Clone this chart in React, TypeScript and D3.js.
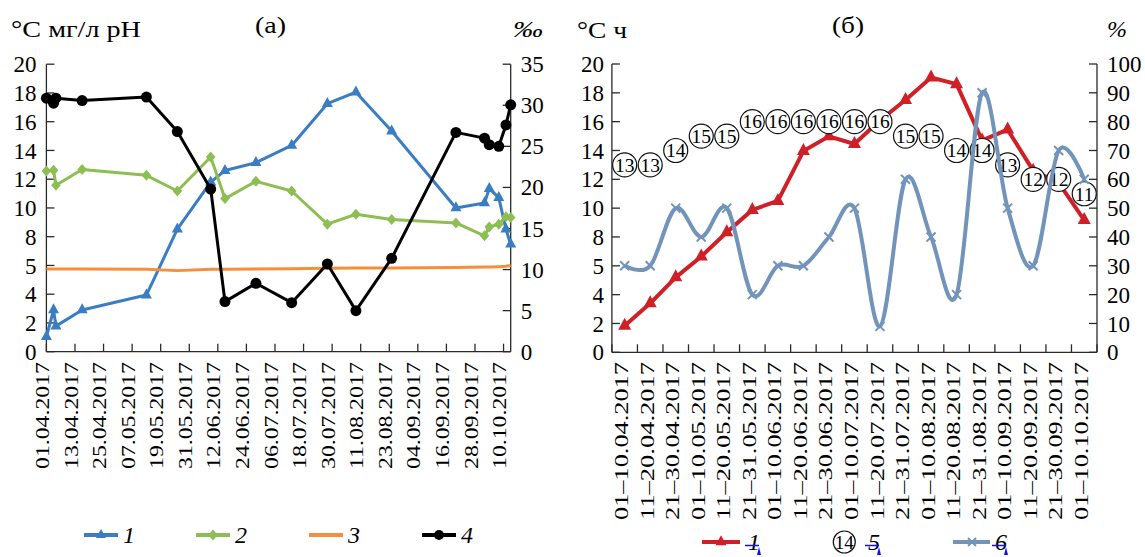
import React from "react";
import * as d3 from "d3";

// ---------- Panel (а) data ----------
const datesA = [
  "01.04.2017", "04.04.2017", "05.04.2017", "16.04.2017", "13.05.2017", "26.05.2017",
  "09.06.2017", "15.06.2017", "28.06.2017", "13.07.2017", "28.07.2017", "09.08.2017",
  "24.08.2017", "20.09.2017", "02.10.2017", "04.10.2017", "08.10.2017", "11.10.2017", "13.10.2017",
];
const series1A = [1.04, 2.9, 1.78, 2.9, 3.94, 8.52, 11.8, 12.6, 13.15, 14.35, 17.25, 18.05, 15.35, 10.0, 10.35, 11.35, 10.72, 8.52, 7.48];
const series2A = [12.57, 12.62, 11.58, 12.67, 12.27, 11.18, 13.54, 10.65, 11.85, 11.18, 8.87, 9.56, 9.19, 8.96, 8.06, 8.68, 8.87, 9.38, 9.33];
const series3A = [10.07, 10.07, 10.07, 10.07, 10.05, 9.87, 10.05, 10.05, 10.07, 10.1, 10.15, 10.2, 10.2, 10.25, 10.3, 10.3, 10.35, 10.4, 10.5];
const series4A = [30.86, 30.25, 30.86, 30.57, 31.0, 26.8, 19.8, 6.1, 8.33, 5.97, 10.68, 5.0, 11.37, 26.7, 26.0, 25.2, 25.0, 27.6, 30.05];
const xDomainA = ["01.04.2017", "13.10.2017"];
const xTicksA = [
  "01.04.2017", "13.04.2017", "25.04.2017", "07.05.2017", "19.05.2017", "31.05.2017",
  "12.06.2017", "24.06.2017", "06.07.2017", "18.07.2017", "30.07.2017", "11.08.2017",
  "23.08.2017", "04.09.2017", "16.09.2017", "28.09.2017", "10.10.2017",
];
const leftTickValues = [0, 2, 4, 6, 8, 10, 12, 14, 16, 18, 20];
const leftTickLabels = ["0", "2", "4", "5", "8", "10", "12", "14", "16", "18", "20"];
const rightTicksA = [0, 5, 10, 15, 20, 25, 30, 35];
const legendA = ["1", "2", "3", "4"];

// ---------- Panel (б) data ----------
const periodsB = [
  "01–10.04.2017", "11–20.04.2017", "21–30.04.2017", "01–10.05.2017", "11–20.05.2017",
  "21–31.05.2017", "01–10.06.2017", "11–20.06.2017", "21–30.06.2017", "01–10.07.2017",
  "11–20.07.2017", "21–31.07.2017", "01–10.08.2017", "11–20.08.2017", "21–31.08.2017",
  "01–10.09.2017", "11–20.09.2017", "21–30.09.2017", "01–10.10.2017",
];
const series1B = [1.85, 3.4, 5.2, 6.65, 8.33, 9.88, 10.5, 13.96, 14.98, 14.45, 16.1, 17.5, 19.06, 18.6, 14.7, 15.45, 12.6, 11.76, 9.17];
const series5B = [13, 13, 14, 15, 15, 16, 16, 16, 16, 16, 16, 15, 15, 14, 14, 13, 12, 12, 11];
const series6B = [30, 30, 50, 40, 50, 20, 30, 30, 40, 50, 9, 60, 40, 20, 90, 50, 30, 70, 60];
const rightTicksB = [0, 10, 20, 30, 40, 50, 60, 70, 80, 90, 100];
const legendB = ["1", "5", "6"];

// ---------- styles ----------
const FONT = "'Liberation Serif', 'Times New Roman', serif";
const C_BLUE = "#3a7dc3";
const C_GREEN = "#8cbe52";
const C_ORANGE = "#f58f3b";
const C_BLACK = "#000000";
const C_RED = "#cf2027";
const C_STEEL = "#7394ba";
const C_AXIS = "#2a2a2a";

const parse = d3.utcParse("%d.%m.%Y");

function tri(cx: number, cy: number, hw: number, h: number) {
  return `M${cx},${cy - (2 * h) / 3}L${cx + hw},${cy + h / 3}L${cx - hw},${cy + h / 3}Z`;
}
function diamond(cx: number, cy: number, hw: number, hh: number) {
  return `M${cx},${cy - hh}L${cx + hw},${cy}L${cx},${cy + hh}L${cx - hw},${cy}Z`;
}
function cross(cx: number, cy: number, r: number) {
  return `M${cx - r},${cy - r}L${cx + r},${cy + r}M${cx - r},${cy + r}L${cx + r},${cy - r}`;
}

function PanelA() {
  const X0 = 46.4, X1 = 510.7, Y0 = 351.7, Y1 = 64.2;
  const dates = datesA.map((d) => parse(d) as Date);
  const x = d3.scaleUtc().domain(xDomainA.map((d) => parse(d) as Date)).range([X0, X1]);
  const yL = d3.scaleLinear().domain([0, 20]).range([Y0, Y1]);
  const yR = d3.scaleLinear().domain([0, 35]).range([Y0, Y1]);
  const lineL = d3.line<number>().x((_, i) => x(dates[i])).y((d) => yL(d));
  const lineR = d3.line<number>().x((_, i) => x(dates[i])).y((d) => yR(d));
  const tickDates = xTicksA.map((d) => parse(d) as Date);

  return (
    <g>
      <text x={11} y={37} fontSize={24} fontFamily={FONT} textLength={130} lengthAdjust="spacingAndGlyphs">°C мг/л pH</text>
      <text x={255} y={33} fontSize={24} fontFamily={FONT} textLength={31} lengthAdjust="spacingAndGlyphs">(а)</text>
      <text x={513} y={37} fontSize={24} fontFamily={FONT} fontStyle="italic" textLength={30} lengthAdjust="spacingAndGlyphs">‰</text>

      {/* axes */}
      <line x1={X0} x2={X0} y1={Y1} y2={Y0} stroke={C_AXIS} strokeWidth={1.3} />
      <line x1={X1} x2={X1} y1={Y1} y2={Y0} stroke={C_AXIS} strokeWidth={1.3} />
      <line x1={X0} x2={X1} y1={Y0} y2={Y0} stroke={C_AXIS} strokeWidth={1.3} />
      {leftTickValues.map((v, i) => (
        <g key={"l" + i}>
          <line x1={X0} x2={X0 + 8} y1={yL(v)} y2={yL(v)} stroke={C_AXIS} strokeWidth={1.3} />
          <text x={X0 - 10} y={yL(v)} dy="0.35em" textAnchor="end" fontSize={23} fontFamily={FONT}>{leftTickLabels[i]}</text>
        </g>
      ))}
      {rightTicksA.map((v, i) => (
        <g key={"r" + i}>
          <line x1={X1 - 8} x2={X1} y1={yR(v)} y2={yR(v)} stroke={C_AXIS} strokeWidth={1.3} />
          <text x={X1 + 10} y={yR(v)} dy="0.35em" textAnchor="start" fontSize={23} fontFamily={FONT}>{v}</text>
        </g>
      ))}
      {tickDates.map((d, i) => (
        <g key={"x" + i}>
          <line x1={x(d)} x2={x(d)} y1={Y0} y2={Y0 - 8} stroke={C_AXIS} strokeWidth={1.3} />
          <text
            transform={`translate(${x(d) - 4},${362}) rotate(-90) scale(1,0.78)`}
            dy="0.35em"
            textAnchor="end"
            fontSize={24}
            fontFamily={FONT}
            textLength={107}
            lengthAdjust="spacingAndGlyphs"
          >
            {xTicksA[i]}
          </text>
        </g>
      ))}

      {/* series 1 */}
      <path d={lineL(series1A) || ""} fill="none" stroke={C_BLUE} strokeWidth={3} strokeLinejoin="round" />
      {series1A.map((v, i) => (
        <path key={"b" + i} d={tri(x(dates[i]), yL(v), 5.5, 10)} fill={C_BLUE} />
      ))}
      {/* series 2 */}
      <path d={lineL(series2A) || ""} fill="none" stroke={C_GREEN} strokeWidth={3} strokeLinejoin="round" />
      {series2A.map((v, i) => (
        <path key={"g" + i} d={diamond(x(dates[i]), yL(v), 4.8, 5.5)} fill={C_GREEN} />
      ))}
      {/* series 3 */}
      <path d={lineR(series3A) || ""} fill="none" stroke={C_ORANGE} strokeWidth={3} strokeLinejoin="round" />
      {/* series 4 */}
      <path d={lineR(series4A) || ""} fill="none" stroke={C_BLACK} strokeWidth={3} strokeLinejoin="round" />
      {series4A.map((v, i) => (
        <circle key={"k" + i} cx={x(dates[i])} cy={yR(v)} r={5.5} fill={C_BLACK} />
      ))}

      {/* legend */}
      {legendA.map((lab, i) => {
        const lx = [84, 196, 309, 422][i];
        const col = [C_BLUE, C_GREEN, C_ORANGE, C_BLACK][i];
        const cy = 535;
        const cx = lx + 17;
        return (
          <g key={"lg" + i}>
            <line x1={lx} x2={lx + 34} y1={cy} y2={cy} stroke={col} strokeWidth={4} />
            {i === 0 && <path d={tri(cx, cy, 5, 9)} fill={col} />}
            {i === 1 && <path d={diamond(cx, cy, 4.5, 5.5)} fill={col} />}
            {i === 3 && <circle cx={cx} cy={cy} r={5} fill={col} />}
            <text x={lx + 39} y={cy} dy="0.35em" fontSize={24} fontStyle="italic" fontFamily={FONT}>{lab}</text>
          </g>
        );
      })}
    </g>
  );
}

function PanelB() {
  const X0 = 611.9, X1 = 1097, Y0 = 352.3, Y1 = 64;
  const xb = d3.scaleBand<string>().domain(periodsB).range([X0, X1]).padding(0);
  const cx = (i: number) => (xb(periodsB[i]) as number) + xb.bandwidth() / 2;
  const yL = d3.scaleLinear().domain([0, 20]).range([Y0, Y1]);
  const yR = d3.scaleLinear().domain([0, 100]).range([Y0, Y1]);
  const lineRed = d3.line<number>().x((_, i) => cx(i)).y((d) => yL(d));
  const lineSteel = d3.line<number>().curve(d3.curveCardinal.tension(0)).x((_, i) => cx(i)).y((d) => yR(d));
  const boundaries = periodsB.map((p) => xb(p) as number).concat([X1]);

  return (
    <g>
      <text x={577} y={38} fontSize={24} fontFamily={FONT} textLength={50} lengthAdjust="spacingAndGlyphs">°C ч</text>
      <text x={832} y={33} fontSize={24} fontFamily={FONT} textLength={32} lengthAdjust="spacingAndGlyphs">(б)</text>
      <text x={1107} y={37} fontSize={24} fontFamily={FONT} fontStyle="italic">%</text>

      <line x1={X0} x2={X0} y1={Y1} y2={Y0} stroke={C_AXIS} strokeWidth={1.3} />
      <line x1={X1} x2={X1} y1={Y1} y2={Y0} stroke={C_AXIS} strokeWidth={1.3} />
      <line x1={X0} x2={X1} y1={Y0} y2={Y0} stroke={C_AXIS} strokeWidth={1.3} />
      {leftTickValues.map((v, i) => (
        <g key={"l" + i}>
          <line x1={X0} x2={X0 + 8} y1={yL(v)} y2={yL(v)} stroke={C_AXIS} strokeWidth={1.3} />
          <text x={X0 - 8} y={yL(v)} dy="0.35em" textAnchor="end" fontSize={23} fontFamily={FONT}>{leftTickLabels[i]}</text>
        </g>
      ))}
      {rightTicksB.map((v, i) => (
        <g key={"r" + i}>
          <line x1={X1 - 8} x2={X1} y1={yR(v)} y2={yR(v)} stroke={C_AXIS} strokeWidth={1.3} />
          <text x={X1 + 10} y={yR(v)} dy="0.35em" textAnchor="start" fontSize={23} fontFamily={FONT}>{v}</text>
        </g>
      ))}
      {boundaries.map((b, i) => (
        <line key={"t" + i} x1={b} x2={b} y1={Y0} y2={Y0 - 8} stroke={C_AXIS} strokeWidth={1.3} />
      ))}
      {periodsB.map((p, i) => (
        <text
          key={"xl" + i}
          transform={`translate(${cx(i) - 3},${362}) rotate(-90) scale(1,0.78)`}
          dy="0.35em"
          textAnchor="end"
          fontSize={24}
          fontFamily={FONT}
          textLength={158}
          lengthAdjust="spacingAndGlyphs"
        >
          {p}
        </text>
      ))}

      {/* series 1 */}
      <path d={lineRed(series1B) || ""} fill="none" stroke={C_RED} strokeWidth={4} strokeLinejoin="round" />
      {series1B.map((v, i) => (
        <path key={"rt" + i} d={tri(cx(i), yL(v), 6.5, 12)} fill={C_RED} />
      ))}
      {/* series 5 */}
      {series5B.map((v, i) => (
        <g key={"c" + i}>
          <circle cx={cx(i)} cy={yL(v)} r={12} fill="#fff" stroke="#111" strokeWidth={1.2} />
          <text x={cx(i)} y={yL(v)} dy="0.35em" textAnchor="middle" fontSize={19.5} fontFamily={FONT}>{v}</text>
        </g>
      ))}
      {/* series 6 */}
      <path d={lineSteel(series6B) || ""} fill="none" stroke={C_STEEL} strokeWidth={4} strokeLinejoin="round" />
      {series6B.map((v, i) => (
        <path key={"x" + i} d={cross(cx(i), yR(v), 4.5)} stroke={C_STEEL} strokeWidth={2} fill="none" />
      ))}

      {/* legend */}
      {legendB.map((lab, i) => {
        const cy = 542;
        const labX = [748, 868, 995][i];
        return (
          <g key={"lg" + i}>
            {i === 0 && (
              <g>
                <line x1={702} x2={740} y1={cy} y2={cy} stroke={C_RED} strokeWidth={4} />
                <path d={tri(721, cy, 5.5, 10)} fill={C_RED} />
              </g>
            )}
            {i === 1 && (
              <g>
                <circle cx={844.3} cy={cy} r={11} fill="#fff" stroke="#111" strokeWidth={1.2} />
                <text x={844.3} y={cy} dy="0.35em" textAnchor="middle" fontSize={19} fontFamily={FONT}>14</text>
              </g>
            )}
            {i === 2 && (
              <g>
                <line x1={953} x2={990} y1={cy} y2={cy} stroke={C_STEEL} strokeWidth={4} />
                <path d={cross(972, cy, 4)} stroke={C_STEEL} strokeWidth={2} fill="none" />
              </g>
            )}
            <text x={labX} y={cy} dy="0.35em" fontSize={24} fontStyle="italic" fontFamily={FONT}>{lab}</text>
            <line x1={labX - 3} x2={labX + 11} y1={cy + 3.5} y2={cy + 3.5} stroke="#1010ff" strokeWidth={1.5} />
            <path d={`M${labX + 11},${cy + 5}L${labX + 13},${cy + 13}L${labX + 9},${cy + 13}Z`} fill="#1010ff" />
          </g>
        );
      })}
    </g>
  );
}

export default function App() {
  return (
    <div style={{ position: "absolute", left: 0, top: 0 }}>
      <svg width={1145} height={557} viewBox="0 0 1145 557" style={{ display: "block", background: "#fff" }}>
        <PanelA />
        <PanelB />
      </svg>
    </div>
  );
}
